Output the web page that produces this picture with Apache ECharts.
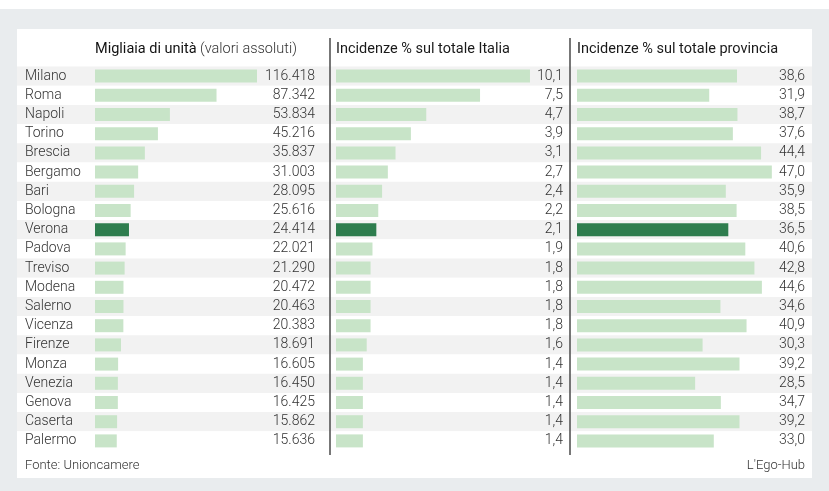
<!DOCTYPE html>
<html>
<head>
<meta charset="utf-8">
<script src="https://cdn.jsdelivr.net/npm/echarts@6/dist/echarts.min.js"></script>
<style>
html,body{margin:0;padding:0;background:#fff;}
#c{width:829px;height:491px;}
</style>
</head>
<body>
<div id="c"></div>
<script>
var cities = ['Milano','Roma','Napoli','Torino','Brescia','Bergamo','Bari','Bologna','Verona','Padova','Treviso','Modena','Salerno','Vicenza','Firenze','Monza','Venezia','Genova','Caserta','Palermo'];
var absValues = [116418,87342,53834,45216,35837,31003,28095,25616,24414,22021,21290,20472,20463,20383,18691,16605,16450,16425,15862,15636];
var italiaPct = [10.1,7.5,4.7,3.9,3.1,2.7,2.4,2.2,2.1,1.9,1.8,1.8,1.8,1.8,1.6,1.4,1.4,1.4,1.4,1.4];
var provinciaPct = [38.6,31.9,38.7,37.6,44.4,47.0,35.9,38.5,36.5,40.6,42.8,44.6,34.6,40.9,30.3,39.2,28.5,34.7,39.2,33.0];
var highlight = 'Verona';
var headers = ['Migliaia di unità', '(valori assoluti)', 'Incidenze % sul totale Italia', 'Incidenze % sul totale provincia'];
var sourceText = 'Fonte: Unioncamere';
var creditText = "L'Ego-Hub";

var FONT = 'Roboto';
var LIGHT = '#c8e4c8';
var DARK = '#2e7d4e';
var TXT = '#333';

function fmtThousands(v){ return String(v).replace(/\B(?=(\d{3})+(?!\d))/g, '.'); }
function fmtDec(v){ return v.toFixed(1).replace('.', ','); }

function barData(arr){
  return arr.map(function(v,i){
    return {value:v, itemStyle:{color: cities[i]===highlight ? DARK : LIGHT}};
  });
}

var TOP = 66.5, H = 384;
var cols = [
  {left:95, width:220, max:158100, data:absValues, fmt:fmtThousands},
  {left:336, width:227, max:11.82, data:italiaPct, fmt:fmtDec},
  {left:577, width:228, max:55.0, data:provinciaPct, fmt:fmtDec}
];

// row stripes: one full-width band per category, alternating colours
var grid = [{left:17, width:795, top:TOP, height:H}];
var xAxis = [{gridIndex:0, type:'value', min:0, max:1, show:false}];
var yAxis = [{gridIndex:0, type:'category', data:cities, inverse:true, show:false}];
var series = [{type:'bar', xAxisIndex:0, yAxisIndex:0, barWidth:'100%', silent:true, z:0,
  data:cities.map(function(c,i){ return {value:1, itemStyle:{color: i%2===0 ? '#f2f2f2' : '#ffffff'}}; })}];

cols.forEach(function(c, k){
  var gi = k+1;
  grid.push({left:c.left, width:c.width, top:TOP, height:H});
  xAxis.push({gridIndex:gi, type:'value', min:0, max:c.max, show:false});
  yAxis.push({gridIndex:gi, type:'category', data:cities, inverse:true, position:'left',
    axisLine:{show:false}, axisTick:{show:false},
    axisLabel:{show:k===0, align:'left', margin:70, fontFamily:FONT, fontSize:14, fontWeight:300, color:TXT}});
  var rightIdx = yAxis.length;
  yAxis.push({gridIndex:gi, type:'category', data:cities, inverse:true, position:'right', z:5,
    axisLine:{show:false}, axisTick:{show:false},
    axisLabel:{show:true, inside:true, margin:0, align:'right', fontFamily:FONT, fontSize:14, fontWeight:300, color:TXT,
      formatter:(function(cc){ return function(v, i){ return cc.fmt(cc.data[i]); }; })(c)}});
  series.push({type:'bar', xAxisIndex:gi, yAxisIndex:rightIdx-1, data:barData(c.data), barWidth:13, silent:true, z:2});
});

var chart = echarts.init(document.getElementById('c'), null, {renderer:'canvas'});
chart.setOption({
  backgroundColor:'#e9ecee',
  animation:false,
  graphic:[
    {type:'rect', z:-10, shape:{x:0,y:0,width:829,height:9}, style:{fill:'#ffffff'}},
    {type:'rect', z:-10, shape:{x:17,y:29,width:795,height:449}, style:{fill:'#ffffff'}},
    {type:'line', z:10, shape:{x1:330,y1:38,x2:330,y2:455}, style:{stroke:'#555', lineWidth:1.6}},
    {type:'line', z:10, shape:{x1:570,y1:38,x2:570,y2:455}, style:{stroke:'#555', lineWidth:1.6}},
    {type:'text', left:95, top:42, style:{text:'{b|'+headers[0]+'} {n|'+headers[1]+'}', rich:{
      b:{fontFamily:FONT, fontSize:14.5, fontWeight:400, fill:'#111'},
      n:{fontFamily:FONT, fontSize:14.5, fontWeight:300, fill:'#333'}}}},
    {type:'text', left:336, top:42, style:{text:headers[2], fontFamily:FONT, fontSize:14.5, fontWeight:400, fill:'#1a1a1a'}},
    {type:'text', left:577, top:42, style:{text:headers[3], fontFamily:FONT, fontSize:14.5, fontWeight:400, fill:'#1a1a1a'}},
    {type:'text', left:25, top:459, style:{text:sourceText, fontFamily:FONT, fontSize:13, fontWeight:300, fill:'#333'}},
    {type:'text', right:24, top:459, style:{text:creditText, fontFamily:FONT, fontSize:13, fontWeight:300, fill:'#333'}}
  ],
  grid:grid, xAxis:xAxis, yAxis:yAxis, series:series
});
</script>
</body>
</html>
